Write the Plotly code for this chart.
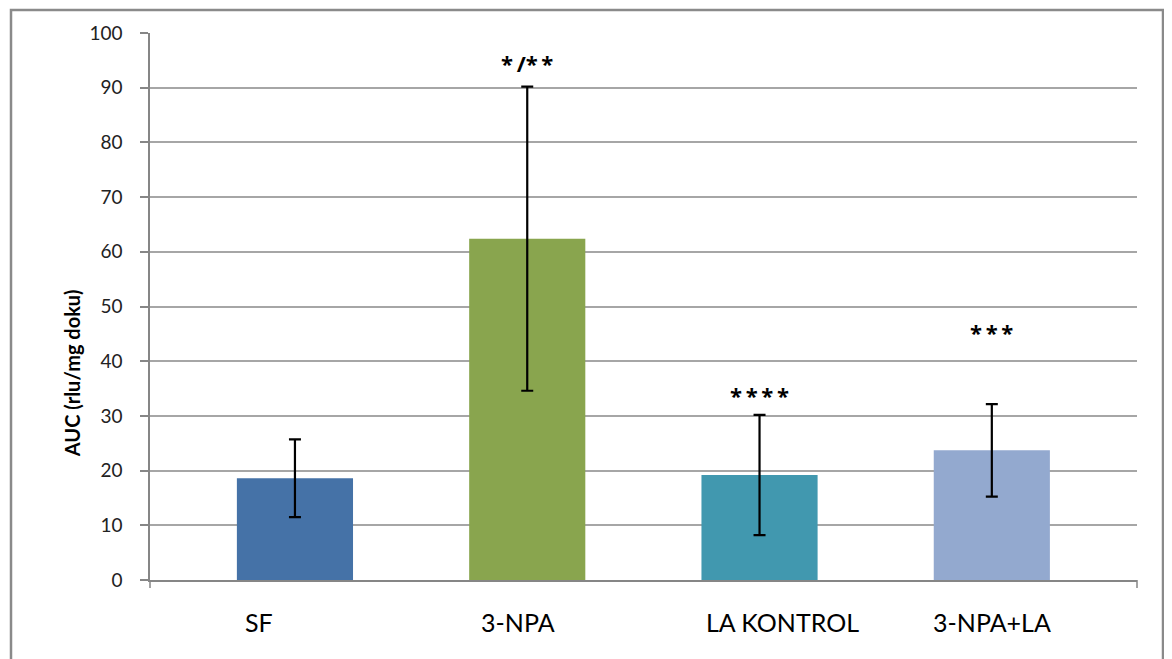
import plotly.graph_objects as go

categories = ["SF", "3-NPA", "LA KONTROL", "3-NPA+LA"]
auc_means = [18.6, 62.4, 19.2, 23.7]
auc_errors = [7.1, 27.8, 11.0, 8.45]
bar_colors = ["#4572A7", "#89A54E", "#4198AF", "#93A9CF"]
sig_labels = ["", "*/**", "****", "***"]
sig_y = [None, 94.6, 33.9, 45.3]
y_ticks = [0, 10, 20, 30, 40, 50, 60, 70, 80, 90, 100]

# label layout (pixel shifts of category labels, as in the original)
label_xshift = [-36, -9, 23, 0]

FONT = "Lato, 'Liberation Sans', sans-serif"
STAR_FONT = "'Open Sans', 'DejaVu Sans', sans-serif"

# page offset (body margin) compensation
OFF = 8
L, T = 150 - OFF, 32.5 - OFF
R = 1172 + OFF - 1137
B = 659 + OFF - 580
PH = 580 - 32.5
PW = 1137 - 150

fig = go.Figure()
fig.add_trace(go.Bar(
    x=list(range(len(categories))),
    y=auc_means,
    width=0.5,
    marker=dict(color=bar_colors, line=dict(width=0)),
    error_y=dict(type="data", array=auc_errors, visible=True,
                 color="black", thickness=2.2, width=6),
    showlegend=False,
))

for i, (lab, yy) in enumerate(zip(sig_labels, sig_y)):
    if lab:
        fig.add_annotation(x=i, y=yy, text="<b>" + lab.replace("*", "*\u2009").strip() + "</b>",
                           showarrow=False, xref="x", yref="y",
                           font=dict(family=STAR_FONT, size=22, color="black"))

for i, (cat, xs) in enumerate(zip(categories, label_xshift)):
    fig.add_annotation(x=i, y=0, xref="x", yref="y", text=cat, showarrow=False,
                       xshift=xs, yshift=-42, yanchor="middle",
                       font=dict(family=FONT, size=25, color="black"))

fig.add_annotation(x=(72 - 150) / PW, y=(580 - 373) / PH, xref="paper", yref="paper",
                   text="<b>AUC (rlu/mg doku)</b>", textangle=-90, showarrow=False,
                   xanchor="center", yanchor="middle",
                   font=dict(family=FONT, size=20, color="black"))

# outer chart border
fig.add_shape(type="rect", xref="paper", yref="paper",
              x0=(11 - 150) / PW, x1=(1163 - 150) / PW,
              y0=(580 - 680) / PH, y1=(580 - 9.5) / PH,
              line=dict(color="#8a8a8a", width=2.5), layer="below")
# x-axis end tick marks
for xd in [0, 1]:
    fig.add_shape(type="line", xref="x domain", yref="paper",
                  x0=xd, x1=xd, y0=0, y1=-8 / PH,
                  line=dict(color="#868686", width=1.5))

fig.update_layout(
    width=1172, height=659,
    margin=dict(l=L, r=R, t=T, b=B),
    paper_bgcolor="white", plot_bgcolor="white",
    font=dict(family=FONT, color="black"),
    bargap=0.5,
)
fig.update_xaxes(
    range=[-0.624, 3.625],
    tickmode="array", tickvals=list(range(len(categories))), ticktext=categories,
    showticklabels=False,
    ticks="", showgrid=False, showline=True, linecolor="#868686", linewidth=1.5,
    zeroline=False,
)
fig.update_yaxes(
    range=[0, 100], tickmode="array", tickvals=y_ticks,
    ticks="outside", ticklen=8, tickcolor="#868686", tickwidth=1.5,
    showgrid=True, gridcolor="#a6a6a6", gridwidth=1.5,
    showline=True, linecolor="#868686", linewidth=1.5,
    tickfont=dict(family=FONT, size=19, color="#222222"),
    ticklabelstandoff=14, zeroline=False,
)

fig.write_html("out.html")
